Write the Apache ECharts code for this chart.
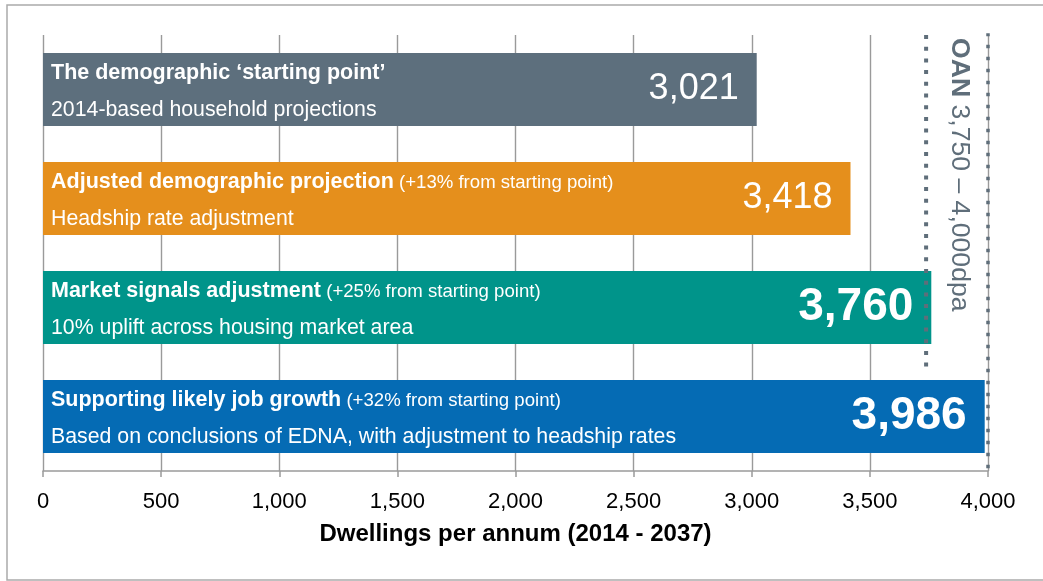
<!DOCTYPE html>
<html>
<head>
<meta charset="utf-8">
<script src="https://cdn.jsdelivr.net/npm/echarts@6/dist/echarts.min.js"></script>
<style>
  html, body { margin: 0; padding: 0; background: #fff; }
  #chart { width: 1043px; height: 581px; }
</style>
</head>
<body>
<div id="chart"></div>
<script>
// ---- data ----
const categories = ['Starting point', 'Adjusted demographic', 'Market signals', 'Job growth'];
const titles = ['The demographic \u2018starting point\u2019', 'Adjusted demographic projection', 'Market signals adjustment', 'Supporting likely job growth'];
const notes = ['', '(+13% from starting point)', '(+25% from starting point)', '(+32% from starting point)'];
const subtitles = ['2014-based household projections', 'Headship rate adjustment', '10% uplift across housing market area', 'Based on conclusions of EDNA, with adjustment to headship rates'];
const values = [3021, 3418, 3760, 3986];
const xTicks = [0, 500, 1000, 1500, 2000, 2500, 3000, 3500, 4000];
const oanLowLine = [[3738, -0.5], [3738, 2.61]];
const oanHighLine = [[4000, -0.52], [4000, 3.5]];
const oanLabelBold = 'OAN';
const oanLabelRest = ' 3,750 \u2013 4,000dpa';
const axisName = 'Dwellings per annum (2014 - 2037)';

// ---- styles ----
const barColors = ['#5D6F7D', '#E58F1C', '#00948A', '#056BB4'];
const valueFontSizes = [36, 36, 46, 46];
const valueFontWeights = ['normal', 'normal', 'bold', 'bold'];
const FONT = '"Liberation Sans", Arial, Helvetica, sans-serif';
const GRID = '#9a9a9a';
const DOT = '#5F6E7A';

const chart = echarts.init(document.getElementById('chart'), null, { renderer: 'canvas' });

const fmt = v => v.toLocaleString('en-US');

const option = {
  animation: false,
  textStyle: { fontFamily: FONT },
  grid: { left: 43, right: 55, top: 35, bottom: 110, containLabel: false },
  xAxis: {
    type: 'value', min: xTicks[0], max: xTicks[xTicks.length - 1], interval: 500,
    name: axisName, nameLocation: 'middle', nameGap: 51,
    nameTextStyle: { fontFamily: FONT, fontSize: 24, fontWeight: 'bold', color: '#000' },
    axisLine: { show: true, onZero: false, lineStyle: { color: GRID, width: 1.5 } },
    axisTick: { show: true, length: 6, lineStyle: { color: GRID, width: 1.5 } },
    axisLabel: { fontFamily: FONT, fontSize: 22, color: '#000', margin: 20, formatter: v => fmt(v) },
    splitLine: { show: true, showMinLine: true, showMaxLine: true, lineStyle: { color: GRID, width: 1.4 } }
  },
  yAxis: [
    { type: 'category', data: categories, inverse: true,
      axisLine: { show: false }, axisTick: { show: false }, axisLabel: { show: false }, splitLine: { show: false } },
    { type: 'value', min: -0.5, max: 3.5, inverse: true, show: false, splitLine: { show: false } }
  ],
  series: [
    {
      type: 'bar', yAxisIndex: 0, barWidth: 73, barGap: '-100%', z: 2,
      data: values.map((v, i) => ({ value: v, itemStyle: { color: barColors[i] } })),
      label: {
        show: true, position: 'insideLeft', distance: 8, padding: [5, 0, 0, 0],
        formatter: p => {
          const i = p.dataIndex;
          let l1 = '{b|' + titles[i] + '}';
          if (notes[i]) l1 += '{p| ' + notes[i] + '}';
          return l1 + '\n{s|' + subtitles[i] + '}';
        },
        rich: {
          b: { fontFamily: FONT, fontSize: 21.5, fontWeight: 'bold', color: '#fff', lineHeight: 37 },
          p: { fontFamily: FONT, fontSize: 18.6, color: '#fff', lineHeight: 37 },
          s: { fontFamily: FONT, fontSize: 21.3, color: '#fff', lineHeight: 37 }
        }
      }
    },
    {
      type: 'bar', yAxisIndex: 0, barWidth: 73, barGap: '-100%', z: 3, silent: true,
      itemStyle: { color: 'rgba(0,0,0,0)' },
      data: values.map((v, i) => ({ value: v, label: { fontSize: valueFontSizes[i], fontWeight: valueFontWeights[i] } })),
      label: {
        show: true, position: 'insideRight', distance: 18, color: '#fff', fontFamily: FONT,
        formatter: p => fmt(p.value)
      }
    },
    {
      type: 'line', yAxisIndex: 1, data: oanLowLine, symbol: 'none', silent: true, z: 5,
      lineStyle: { color: DOT, width: 4, type: [4, 7.7], cap: 'butt' }
    },
    {
      type: 'line', yAxisIndex: 1, data: oanHighLine, symbol: 'none', silent: true, z: 5,
      lineStyle: { color: DOT, width: 3.5, type: [3.5, 8.5], cap: 'butt' }
    }
  ],
  graphic: [
    { type: 'rect', silent: true, z: -1, shape: { x: 7, y: 5, width: 1100, height: 575 },
      style: { fill: 'none', stroke: '#aaaaaa', lineWidth: 1.5 } },
    { type: 'text', silent: true, x: 959, y: 38, rotation: -Math.PI / 2,
      style: {
        text: '{b|' + oanLabelBold + '}{r|' + oanLabelRest + '}',
        textAlign: 'left', textVerticalAlign: 'middle',
        rich: {
          b: { fontFamily: FONT, fontSize: 26.6, fontWeight: 'bold', fill: DOT },
          r: { fontFamily: FONT, fontSize: 26.6, fill: DOT }
        }
      }
    }
  ]
};

chart.setOption(option);
</script>
</body>
</html>
